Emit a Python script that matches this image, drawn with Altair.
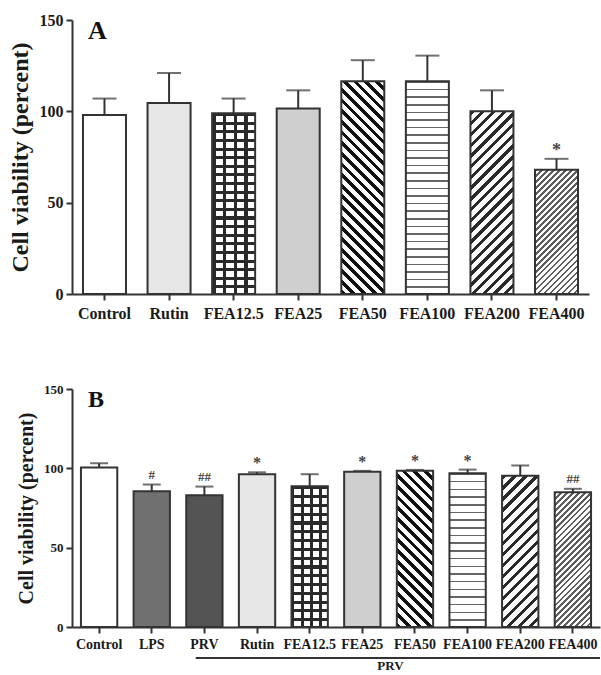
import math
import altair as alt
import pandas as pd

FONT = "Liberation Serif"
INK = "#333333"

# ---------------- data ----------------
A_CATS = ["Control", "Rutin", "FEA12.5", "FEA25", "FEA50", "FEA100", "FEA200", "FEA400"]
A_VALS = [98.0, 104.5, 99.0, 101.5, 116.5, 116.5, 100.0, 68.0]
A_ERRS = [107.0, 121.0, 107.0, 111.5, 128.0, 130.5, 111.5, 74.0]
A_SIGS = ["", "", "", "", "", "", "", "*"]

B_CATS = ["Control", "LPS", "PRV", "Rutin", "FEA12.5", "FEA25", "FEA50", "FEA100", "FEA200", "FEA400"]
B_VALS = [100.5, 85.5, 83.0, 96.3, 88.7, 97.8, 98.4, 96.9, 95.3, 84.9]
B_ERRS = [103.2, 89.8, 88.5, 97.5, 96.3, 98.4, 99.0, 99.2, 101.8, 87.1]
B_SIGS = ["", "#", "##", "*", "", "*", "*", "*", "", "##"]

Y_TICKS = [0, 50, 100, 150]
Y_TITLE = "Cell viability (percent)"

# fill style per treatment (flat base colour, optional pattern)
FLAT = {
    "Control": "#ffffff", "Rutin": "#e6e6e6", "FEA12.5": "#ffffff", "FEA25": "#cfcfcf",
    "FEA50": "#ffffff", "FEA100": "#ffffff", "FEA200": "#ffffff", "FEA400": "#ffffff",
    "LPS": "#707070", "PRV": "#545454",
}


def stripe_stops(n, frac, dark, light):
    stops = []
    for i in range(n):
        a, b, c = i / n, (i + frac) / n, (i + 1) / n
        stops += [(a, dark), (b, dark), (b, light), (c, light)]
    return [alt.GradientStop(color=col, offset=round(off, 5)) for off, col in stops]


def horiz(h, period, frac, dark, light="#ffffff"):
    n = max(1, round(h / period))
    return alt.LinearGradient(gradient="linear", stops=stripe_stops(n, frac, dark, light),
                              x1=0, y1=0, x2=0, y2=1)


def vert(n, frac, dark, light="#ffffff"):
    return alt.LinearGradient(gradient="linear", stops=stripe_stops(n, frac, dark, light),
                              x1=0, y1=0, x2=1, y2=0)


def diag(w, h, back, period, frac, dark, light="#ffffff"):
    t = (1 / h + 1 / w) / (1 / h ** 2 + 1 / w ** 2)
    n = max(1, round((w + h) / math.sqrt(2) / period))
    if back:   # "\" stripes
        x1, y1, x2, y2 = 0, 1, t / h, 1 - t / w
    else:      # "/" stripes
        x1, y1, x2, y2 = 0, 0, t / h, t / w
    return alt.LinearGradient(gradient="linear", stops=stripe_stops(n, frac, dark, light),
                              x1=round(x1, 5), y1=round(y1, 5), x2=round(x2, 5), y2=round(y2, 5))


def patterns(cat, w, h):
    if cat == "FEA12.5":
        return [vert(4, 0.32, "#2a2a2a"), horiz(h, 8.6, 0.35, "#2a2a2a", "rgba(255,255,255,0)")]
    if cat == "FEA50":
        return [diag(w, h, True, 7.6, 0.45, "#111111")]
    if cat == "FEA100":
        return [horiz(h, 7.7, 0.2, "#666666")]
    if cat == "FEA200":
        return [diag(w, h, False, 7.6, 0.4, "#2a2a2a")]
    if cat == "FEA400":
        return [diag(w, h, False, 4.2, 0.45, "#5e5e5e")]
    return []


def panel(cats, vals, errs, sigs, W, H, letter, s, extra=None):
    n = len(cats)
    pi, po = s["pi"], 0.17
    step = W / (n - pi + 2 * po)
    bw = step * (1 - pi)
    ppu = H / 150.0
    df = pd.DataFrame({"cat": cats, "val": vals, "err": errs, "sig": sigs,
                       "fillc": [FLAT[c] for c in cats]})
    xscale = alt.Scale(domain=cats, paddingInner=pi, paddingOuter=po)
    xaxis = alt.Axis(title=None, labelAngle=0, labelFont=FONT, labelFontWeight="bold",
                     labelFontSize=s["xl"], labelColor="#1a1a1a", labelOverlap=False,
                     labelPadding=s["xlp"], domainColor=INK, domainWidth=2,
                     tickColor=INK, tickWidth=2, tickSize=6)
    yaxis = alt.Axis(title=Y_TITLE, values=Y_TICKS, grid=False, titleFont=FONT,
                     titleFontWeight="bold", titleFontSize=s["yt"], titleColor="#1a1a1a",
                     titlePadding=s["ytp"], labelFont=FONT, labelFontWeight="bold",
                     labelFontSize=s["yl"], labelColor="#1a1a1a", labelPadding=3,
                     domainColor=INK, domainWidth=2, tickColor=INK, tickWidth=2, tickSize=6)
    yscale = alt.Scale(domain=[0, 150], nice=False)
    X = alt.X("cat:N", scale=xscale, axis=xaxis)
    Y = alt.Y("val:Q", scale=yscale, axis=yaxis)
    YE = alt.Y("err:Q", scale=yscale, axis=yaxis)

    base = alt.Chart(df)
    layers = [base.mark_bar().encode(x=X, y=Y, fill=alt.Fill("fillc:N", scale=None))]
    for c, v in zip(cats, vals):
        for g in patterns(c, bw, v * ppu):
            layers.append(base.transform_filter(alt.datum.cat == c)
                          .mark_bar(fill=g).encode(x=X, y=Y))
    layers.append(base.mark_bar(fillOpacity=0, stroke=INK, strokeWidth=2).encode(x=X, y=Y))
    layers.append(base.mark_rule(color=INK, strokeWidth=2).encode(x=X, y=Y, y2=alt.Y2("err:Q")))
    layers.append(base.mark_tick(color=INK, thickness=2, size=s["cap"]).encode(x=X, y=YE))
    layers.append(base.transform_filter(alt.datum.sig == "*")
                  .mark_text(font=FONT, fontSize=s["sig"] + 3, fontWeight="bold", color="#444444",
                             dy=s["sigdy"] + 1, baseline="middle")
                  .encode(x=X, y=YE, text="sig:N"))
    layers.append(base.transform_filter((alt.datum.sig != "") & (alt.datum.sig != "*"))
                  .mark_text(font=FONT, fontSize=s["sig"], fontWeight="bold", color="#444444",
                             dy=s["sigdy"], baseline="middle")
                  .encode(x=X, y=YE, text="sig:N"))
    layers.append(alt.Chart(pd.DataFrame({"t": [letter]}))
                  .mark_text(font=FONT, fontWeight="bold", fontSize=s["let"], align="left",
                             baseline="alphabetic", color="#111111")
                  .encode(x=alt.value(16), y=alt.value(s["lety"]), text="t:N"))
    if extra:
        layers += extra(X, W, H)
    return alt.layer(*layers).properties(width=W, height=H)


def prv_group(X, W, H):
    d = pd.DataFrame({"t": ["PRV"]})
    line = (alt.Chart(d).mark_rule(color=INK, strokeWidth=2)
            .encode(x=alt.XDatum("PRV", bandPosition=0.26), x2=alt.value(W),
                    y=alt.value(H + 31)))
    txt = (alt.Chart(d).mark_text(font=FONT, fontWeight="bold", fontSize=13, color="#1a1a1a",
                                  baseline="alphabetic", dx=10)
           .encode(x=alt.XDatum("FEA25", bandPosition=1), y=alt.value(H + 43), text="t:N"))
    return [line, txt]


A = panel(A_CATS, A_VALS, A_ERRS, A_SIGS, 517, 274, "A",
          dict(pi=0.334, xl=16, xlp=5, yt=24, ytp=7, yl=16, cap=24, sig=15, sigdy=-9,
               let=26, lety=19))
B = panel(B_CATS, B_VALS, B_ERRS, B_SIGS, 528, 238, "B",
          dict(pi=0.31, xl=14, xlp=4, yt=20, ytp=7.5, yl=13, cap=18, sig=13, sigdy=-10,
               let=24, lety=18), extra=prv_group)

chart = (alt.vconcat(A, B, spacing=62)
         .properties(padding={"left": 8, "top": 12, "right": 0, "bottom": 0},
                     background="white")
         .configure_view(strokeWidth=0))

chart.save("out.html", embed_options={"renderer": "svg", "actions": False})
